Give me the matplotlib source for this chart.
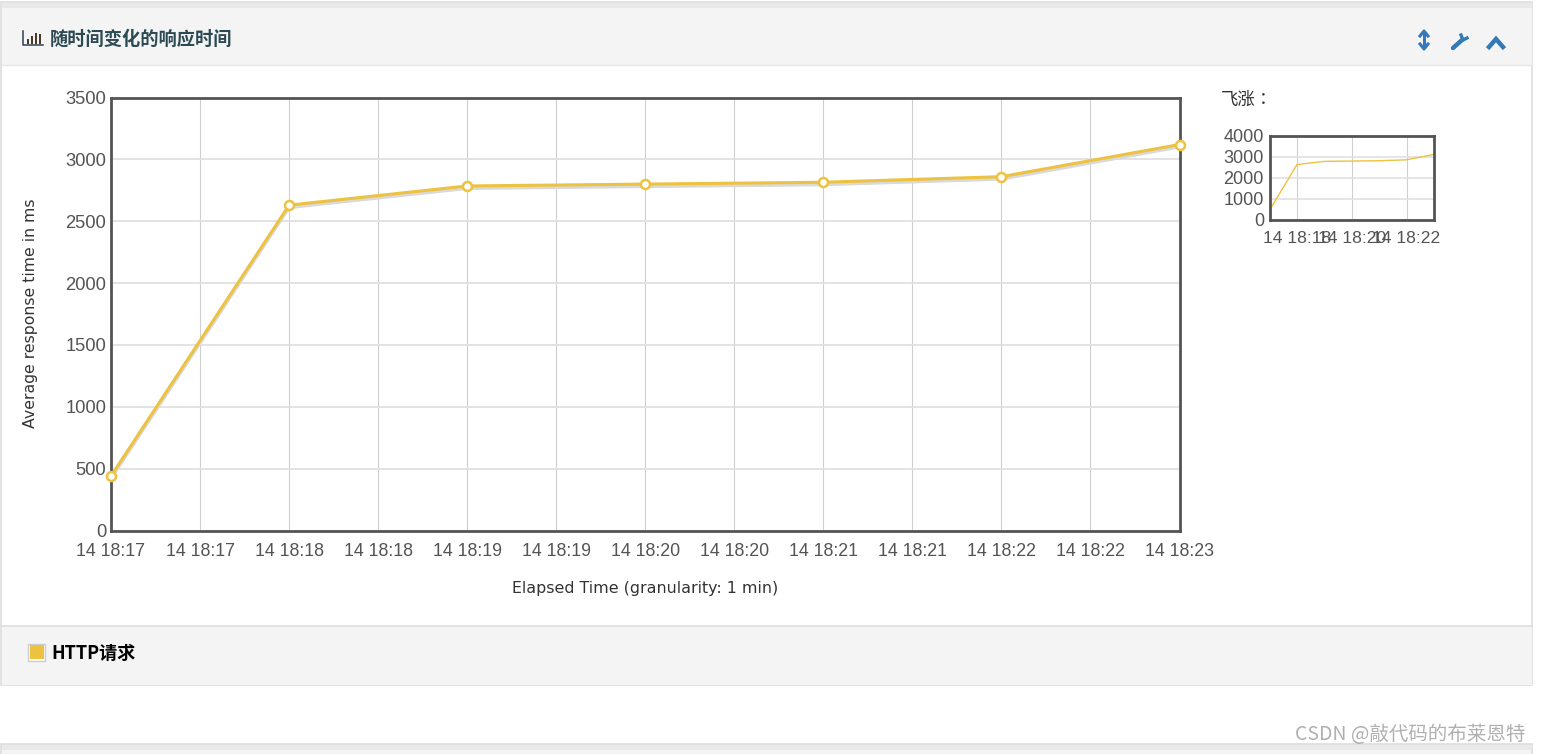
import numpy as np
import matplotlib
matplotlib.use('Agg')
import matplotlib.pyplot as plt
from matplotlib.patches import Rectangle
from matplotlib.transforms import ScaledTranslation

W, H = 1541, 754
CJK = ['Noto Sans CJK SC', 'DejaVu Sans']
CJK_TC = ['Noto Sans CJK TC', 'DejaVu Sans']

# data, minutes after 18:17
minutes = [0, 1, 2, 3, 4, 5, 6]
resp_ms = [440, 2630, 2785, 2800, 2815, 2860, 3120]
x_ticks = [0, 0.5, 1, 1.5, 2, 2.5, 3, 3.5, 4, 4.5, 5, 5.5, 6]
x_labels = ['14 18:17', '14 18:17', '14 18:18', '14 18:18', '14 18:19', '14 18:19', '14 18:20',
            '14 18:20', '14 18:21', '14 18:21', '14 18:22', '14 18:22', '14 18:23']
y_ticks = [0, 500, 1000, 1500, 2000, 2500, 3000, 3500]
mini_x_ticks = [1, 3, 5]
mini_x_labels = ['14 18:18', '14 18:20', '14 18:22']
mini_y_ticks = [0, 1000, 2000, 3000, 4000]

LINE = '#edc240'
GREY = '#545454'
PANEL = '#f4f4f5'
BORDER = '#dddddd'
BLUE = '#337ab7'


def add_axes_px(fig, x0, y0, x1, y1):
    return fig.add_axes([x0 / W, 1 - y1 / H, (x1 - x0) / W, (y1 - y0) / H])


fig = plt.figure(figsize=(W / 100, H / 100), dpi=100, facecolor='white')

# page chrome drawn in pixel coords
bg = fig.add_axes([0, 0, 1, 1])
bg.set_xlim(0, W)
bg.set_ylim(H, 0)
bg.axis('off')
bg.add_patch(Rectangle((1, 2), 1531, 683, fc='white', ec=BORDER, lw=1.2))
bg.add_patch(Rectangle((2, 3), 1530, 5, fc='#e7e9eb', ec='none'))
bg.add_patch(Rectangle((2, 8), 1530, 57, fc=PANEL, ec='none'))
bg.plot([2, 1532], [65, 65], color='#e6e6e6', lw=1)
bg.add_patch(Rectangle((2, 626), 1530, 59, fc=PANEL, ec='none'))
bg.plot([2, 1532], [625.5, 625.5], color=BORDER, lw=1.2)
bg.add_patch(Rectangle((1, 744), 1531, 12, fc=PANEL, ec=BORDER, lw=1.2))
bg.add_patch(Rectangle((2, 745), 1530, 5, fc='#e7e9eb', ec='none'))

# header icon (bar chart glyph)
bg.plot([23, 23, 43], [31, 45, 45], color='#2f3f55', lw=1.1)
for bx, top in zip([27, 31, 35, 39], [39, 36, 33, 34]):
    bg.add_patch(Rectangle((bx, top), 2.4, 44 - top, fc='#4a3a2a', ec='none'))
bg.text(50, 39.5, '随时间变化的响应时间', family=CJK, fontsize=13.15, fontweight='bold',
        color='#2c4a52', va='center', ha='left')

# right side tool icons
bg.plot([1424, 1424], [34, 46], color=BLUE, lw=2.2)
bg.plot([1420, 1424, 1428], [36, 31, 36], color=BLUE, lw=2.2)
bg.plot([1420, 1424, 1428], [44, 49, 44], color=BLUE, lw=2.2)
bg.plot([1453, 1462], [48, 40], color=BLUE, lw=3.2, solid_capstyle='round')
bg.plot([1461, 1463, 1467], [35, 40, 38], color=BLUE, lw=2.4)
bg.plot([1489, 1496, 1503], [47, 39, 47], color=BLUE, lw=3.2, solid_joinstyle='miter')

# main chart
ax = add_axes_px(fig, 111, 97.5, 1179.5, 530.5)
ax.set_xlim(0, 6)
ax.set_ylim(0, 3500)
ax.set_xticks(x_ticks)
ax.set_xticklabels(x_labels, family='Liberation Sans', fontsize=12.8, color=GREY)
ax.set_yticks(y_ticks)
ax.set_yticklabels([str(v) for v in y_ticks], family='Liberation Sans', fontsize=13.2, color=GREY)
ax.tick_params(axis='x', length=0, pad=9)
ax.tick_params(axis='y', length=0, pad=3.5)
ax.grid(True, axis='x', color='#cfcfcf', lw=0.8)
ax.grid(True, axis='y', color='#e0e0e0', lw=1.3)
ax.set_axisbelow(True)
for s in ax.spines.values():
    s.set_color(GREY)
    s.set_linewidth(2.0)
    s.set_zorder(4)
shadow = ax.transData + ScaledTranslation(0, -1.6 / 72, fig.dpi_scale_trans)
ax.plot(minutes, resp_ms, color='#d9d9d9', lw=2.6, transform=shadow, zorder=2)
ax.plot(minutes, resp_ms, color=LINE, lw=2.2, marker='o', ms=6.5, mfc='white', mec=LINE, mew=1.8,
        clip_on=False, zorder=5)
fig.text(645.5 / W, 1 - 588 / H, 'Elapsed Time (granularity: 1 min)', fontsize=11.45, color='#333333',
         ha='center', va='center')
fig.text(31 / W, 1 - 313 / H, 'Average response time in ms', fontsize=11.35, color='#333333',
         rotation=90, ha='center', va='center')

# overview chart
bg.text(1221, 99.5, '飞涨：', family=CJK_TC, fontsize=12.5, color='#333333', va='center', ha='left')
mini = add_axes_px(fig, 1269.5, 136, 1434, 219.5)
mini.set_xlim(0, 6)
mini.set_ylim(0, 4000)
mini.set_xticks(mini_x_ticks)
mini.set_xticklabels(mini_x_labels, family='Liberation Sans', fontsize=12.6, color=GREY)
mini.set_yticks(mini_y_ticks)
mini.set_yticklabels([str(v) for v in mini_y_ticks], family='Liberation Sans', fontsize=13, color=GREY)
mini.tick_params(axis='x', length=0, pad=8)
mini.tick_params(axis='y', length=0, pad=4)
mini.grid(True, axis='x', color='#cfcfcf', lw=0.8)
mini.grid(True, axis='y', color='#e0e0e0', lw=1.2)
mini.set_axisbelow(True)
for s in mini.spines.values():
    s.set_color(GREY)
    s.set_linewidth(2.0)
mini.plot(minutes, resp_ms, color=LINE, lw=1)

# legend
bg.add_patch(Rectangle((28.5, 643.5), 17, 17, fc='white', ec='#cccccc', lw=1))
bg.add_patch(Rectangle((30, 645), 14, 14, fc=LINE, ec='none'))
bg.text(51, 653, 'HTTP请求', family=CJK, fontsize=13, fontweight='bold', color='black', va='center', ha='left')

# watermark
bg.text(1525, 735, 'CSDN @敲代码的布莱恩特', family=CJK, fontsize=14, color='#b0b0b0',
        va='center', ha='right', zorder=10)

fig.savefig('out.png', dpi=100)
